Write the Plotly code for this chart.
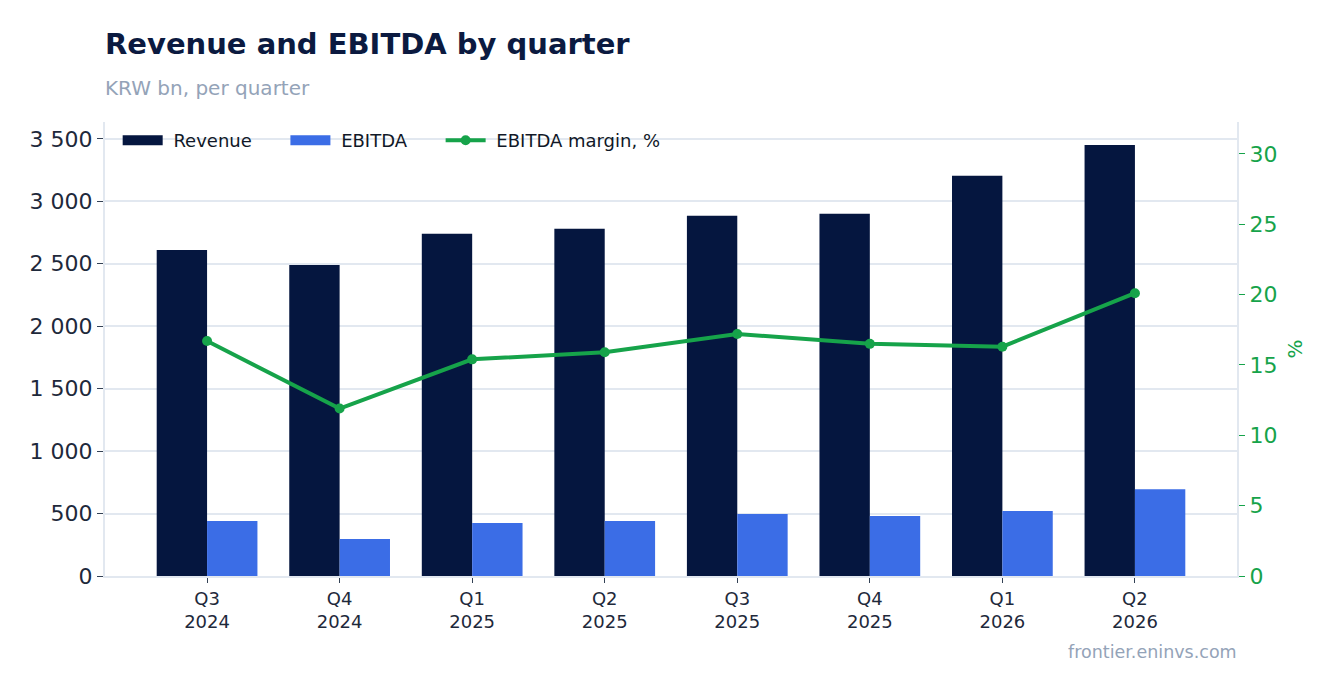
import plotly.graph_objects as go

quarters = ["Q3<br>2024", "Q4<br>2024", "Q1<br>2025", "Q2<br>2025",
            "Q3<br>2025", "Q4<br>2025", "Q1<br>2026", "Q2<br>2026"]
revenue = [2610, 2490, 2740, 2780, 2885, 2900, 3205, 3450]
ebitda = [440, 296, 424, 440, 496, 480, 520, 695]
margin = [16.7, 11.9, 15.4, 15.9, 17.2, 16.5, 16.3, 20.1]

NAVY = "#05163f"
BLUE = "#3b6de6"
GREEN = "#16a34a"
FONT = "DejaVu Sans"
PAD = "\u00a0" * 5  # extra room between legend entries

fig = go.Figure()
fig.add_trace(go.Bar(x=quarters, y=revenue, name="Revenue", marker_color=NAVY,
                     marker_line_width=0, showlegend=False, legendgroup="rev"))
fig.add_trace(go.Bar(x=quarters, y=ebitda, name="EBITDA", marker_color=BLUE,
                     marker_line_width=0, showlegend=False, legendgroup="ebitda"))
# legend-only entries so the bar keys look like wide rectangles
fig.add_trace(go.Scatter(x=[None], y=[None], mode="lines", name=" Revenue" + PAD,
                         line=dict(color=NAVY, width=13), legendgroup="rev"))
fig.add_trace(go.Scatter(x=[None], y=[None], mode="lines", name=" EBITDA" + PAD,
                         line=dict(color=BLUE, width=13), legendgroup="ebitda"))
fig.add_trace(go.Scatter(
    x=quarters, y=margin, name=" EBITDA margin, %", yaxis="y2",
    mode="lines+markers", line=dict(color=GREEN, width=4),
    marker=dict(size=10, color=GREEN)
))

fig.update_layout(
    width=1320, height=677,
    margin=dict(l=97, r=91, t=114, b=109),
    plot_bgcolor="white", paper_bgcolor="white",
    font=dict(family=FONT, color="#1e293b"),
    barmode="group", bargap=0.24, bargroupgap=0,
    title=dict(
        text="<b>Revenue and EBITDA by quarter</b>",
        x=97 / 1320, xanchor="left", y=1 - 36 / 677, yanchor="middle",
        font=dict(size=29, color="#0b1a40")
    ),
    legend=dict(orientation="h", x=0.0112, y=1.0, xanchor="left", yanchor="top",
                font=dict(size=18, color="#111827"), bgcolor="rgba(0,0,0,0)",
                itemwidth=40),
    xaxis=dict(tickfont=dict(size=18, color="#1e293b"), showline=True, linecolor="#e2e8f0",
               linewidth=2, ticks="outside", tickcolor="#334155", ticklen=5,
               range=[-0.77, 7.77]),
    yaxis=dict(range=[0, 3635], tickvals=[0, 500, 1000, 1500, 2000, 2500, 3000, 3500],
               ticktext=["0", "500", "1 000", "1 500", "2 000", "2 500", "3 000", "3 500"],
               tickfont=dict(size=22, color="#1e293b"), gridcolor="#e2e8f0", gridwidth=2,
               showline=True, linecolor="#e2e8f0", linewidth=2,
               ticks="outside", tickcolor="#334155", ticklen=6, zeroline=False),
    yaxis2=dict(overlaying="y", side="right", range=[0, 32.27],
                tickvals=[0, 5, 10, 15, 20, 25, 30],
                tickfont=dict(size=22, color=GREEN), showgrid=False,
                showline=True, linecolor="#e2e8f0", linewidth=2,
                ticks="outside", tickcolor=GREEN, ticklen=6, zeroline=False,
                title=dict(text="%", font=dict(size=20, color=GREEN), standoff=12)),
    annotations=[
        dict(text="KRW bn, per quarter", xref="paper", yref="paper",
             x=0, y=(576 - 88) / 454, xanchor="left", yanchor="middle", showarrow=False,
             xshift=-2, font=dict(size=20, color="#94a3b8")),
        dict(text="frontier.eninvs.com", xref="paper", yref="paper",
             x=1.0, y=(576 - 652) / 454, xanchor="right", yanchor="middle", showarrow=False,
             xshift=2, font=dict(size=17.5, color="#94a3b8")),
    ]
)

fig.write_html("out.html")
